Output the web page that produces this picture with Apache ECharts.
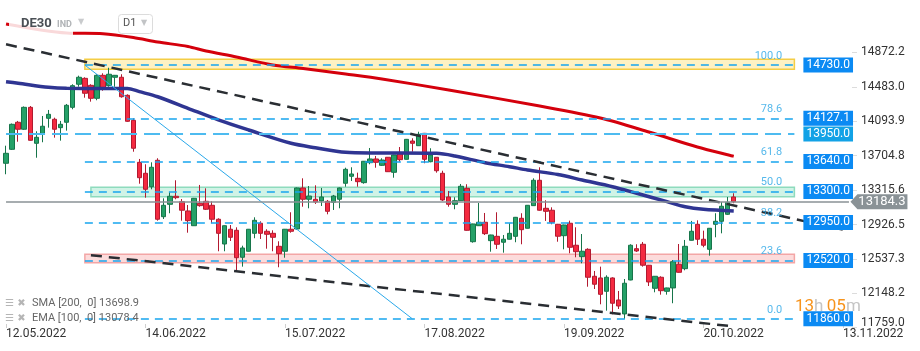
<!DOCTYPE html>
<html>
<head>
<meta charset="utf-8">
<script src="https://cdn.jsdelivr.net/npm/echarts@6/dist/echarts.min.js"></script>
<style>
  html, body { margin: 0; padding: 0; background: #fff; }
  #chart { width: 920px; height: 351px; }
</style>
</head>
<body>
<div id="chart"></div>
<script>
// daily bars DE30, 12.05.2022 .. 27.10.2022
var opens = [13619,13777,14083,14004,14252,13845,13947,14128,14117,14022,14083,14252,14513,14580,14501,14354,14614,14497,14592,14592,
  14388,14105,13630,13506,13354,13653,13015,13155,13246,13185,13080,12913,13167,13189,13144,12986,12706,12873,12861,12556,
  12624,12827,12941,12850,12827,12680,12624,12873,12876,13340,13212,13212,13193,13189,13178,13212,13393,13472,13449,13400,
  13626,13668,13596,13687,13517,13739,13664,13871,13818,13958,13637,13687,13506,13238,13155,13196,13336,12732,12913,12952,
  12744,12793,12726,12760,12793,12997,12884,13140,13427,13110,13088,12929,12800,12941,12692,12563,12646,12341,12322,12171,
  12322,12073,11915,12299,12653,12703,12466,12205,12330,12171,12209,12477,12427,12748,12929,12760,12646,12929,12963,13042,13238];
var closes = [13732,14060,14004,14252,13879,13913,14038,14173,14004,14060,14275,14497,14592,14411,14354,14614,14467,14626,14614,14372,
  14094,13789,13456,13325,13574,12986,13144,13246,13230,13088,12970,13223,13140,13099,12986,12827,12913,12782,12551,12661,
  12873,12974,12827,12816,12782,12597,12873,12850,13340,13212,13249,13181,13238,13076,13249,13340,13551,13498,13411,13642,
  13668,13630,13656,13524,13713,13660,13890,13845,13947,13664,13713,13535,13204,13155,13196,13359,12861,12933,12952,12823,
  12808,12703,12760,12827,13008,12868,13144,13427,13088,13076,12952,12794,12921,12669,12619,12624,12330,12251,12137,12330,
  12036,12005,12262,12692,12627,12466,12277,12341,12178,12209,12506,12386,12680,12850,12760,12692,12884,12963,13133,13178,13184.3];
var highs = [13818,14069,14098,14262,14267,13981,14154,14222,14135,14098,14290,14513,14610,14592,14513,14626,14637,14700,14618,14626,
  14399,14128,13668,13608,13630,13676,13223,13291,13427,13215,13147,13227,13374,13336,13189,12997,12916,12921,12895,12687,
  12876,13008,12963,12873,12861,12737,12876,13065,13345,13449,13362,13370,13340,13204,13261,13345,13569,13574,13513,13645,
  13792,13702,13676,13690,13716,13803,13894,13902,13976,13962,13789,13690,13535,13306,13235,13385,13382,12936,13170,13057,
  12811,13065,12808,12941,13012,13054,13147,13449,13574,13201,13121,12933,12925,12970,12895,12819,12658,12401,12450,12352,
  12330,12175,12310,12703,12703,12729,12469,12344,12341,12212,12525,12706,12752,12967,12974,12857,12887,13054,13181,13238,13280];
var lows = [13495,13770,13863,13996,13874,13682,13857,14022,13909,13875,13988,14230,14485,14361,14316,14332,14440,14485,14485,14361,
  14088,13750,13388,13230,13325,12970,12989,13054,13212,12970,12834,12910,13128,13091,12941,12624,12624,12740,12393,12450,
  12621,12771,12763,12653,12624,12443,12551,12834,12870,13128,13110,13159,13136,13042,13091,13110,13354,13419,13354,13388,
  13608,13569,13589,13521,13456,13637,13662,13750,13815,13619,13630,13513,13193,13128,13099,13193,12857,12721,12910,12808,
  12619,12650,12608,12757,12726,12703,12882,13136,13083,12967,12929,12732,12646,12601,12556,12488,12223,12197,12024,11952,
  11911,11971,11860,12296,12616,12450,12231,12160,12133,12133,12036,12382,12409,12746,12695,12669,12574,12782,12827,13034,13167];

// indicator readings [bar index, value]
var sma200 = [[0,15195],[10,15093],[16,15085],[21,15042],[25,14991],[30,14940],[33,14889],[38,14821],[44,14731],[49,14691],
  [56,14629],[62,14573],[73,14448],[88,14267],[98,14131],[106,13973],[114,13803],[120,13698.9]];
var ema100 = [[0,14542],[2,14525],[7,14479],[10,14467],[15,14466],[20,14466],[22,14429],[25,14372],[30,14241],[35,14110],
  [40,13996],[47,13845],[51,13795],[56,13743],[61,13736],[71,13732],[74,13702],[79,13626],[83,13581],[86,13543],
  [91,13492],[95,13430],[100,13354],[104,13280],[109,13185],[112,13128],[115,13099],[120,13078.4]];

var fibLevels = [14730, 14127.1, 13640, 13300, 12950, 12520, 11860];
var fibTexts = ['100.0', '78.6', '61.8', '50.0', '38.2', '23.6', '0.0'];
var keyLevel = 13950;
var lastPrice = 13184.3;
var upperTrend = [[0, 14965], [139, 12853]];
var lowerTrend = [[14, 12580], [120, 11773]];
var fibBase = [[13, 14730], [67, 11860]];
var yellowZone = [14682, 14797];
var greenZone = [13241, 13348];
var pinkZone = [12495, 12590];

var xTickLabels = ['12.05.2022', '14.06.2022', '15.07.2022', '17.08.2022', '19.09.2022', '20.10.2022', '13.11.2022'];
var yTicks = [11759.0, 12148.2, 12537.3, 12926.5, 13315.6, 13704.8, 14093.9, 14483.0, 14872.2];

var nSlots = 140;
var categories = [];
for (var i = 0; i < nSlots; i++) categories.push(String(i));
var candles = opens.map(function (o, i) { return [o, closes[i], lows[i], highs[i]]; });

var FONT = 'Roboto';
var boxBlue = '#0b8af3';
var fibBlue = '#17a5ee';

function hLine(v, from, to, style, boxColor) {
  return [
    { coord: [from, v], lineStyle: style,
      label: { show: true, position: 'end', distance: 9, formatter: v.toFixed(1), color: '#fff',
        backgroundColor: boxColor, padding: [1, 3], fontSize: 12, fontFamily: FONT, lineHeight: 13 } },
    { coord: [to, v] }
  ];
}
function seg(pts, style) {
  return [{ coord: pts[0], lineStyle: style, label: { show: false } }, { coord: pts[1] }];
}

var fibStyle = { color: fibBlue, width: 1.5, type: [8, 6] };
var lineData = fibLevels.map(function (v) { return hLine(v, 13, 130, fibStyle, boxBlue); });
lineData.push(hLine(keyLevel, 0, 130, { color: '#4dbbf0', width: 2, type: [16, 7] }, '#12a2e6'));
lineData.push(seg(upperTrend, { color: '#2a2e33', width: 2.5, type: [11, 7] }));
lineData.push(seg(lowerTrend, { color: '#2a2e33', width: 2.5, type: [11, 7] }));
lineData.push(seg(fibBase, { color: '#2aa8ea', width: 1, type: 'solid' }));
lineData.push(seg([[0, lastPrice], [139, lastPrice]], { color: '#8a9296', width: 1.5, type: 'solid' }));

var chart = echarts.init(document.getElementById('chart'));
chart.setOption({
  animation: false,
  backgroundColor: '#fff',
  textStyle: { fontFamily: FONT },
  grid: { left: 3, right: 68, top: 0, bottom: 23, containLabel: false, outerBoundsMode: 'none' },
  xAxis: {
    type: 'category', data: categories, boundaryGap: true,
    axisLine: { show: false },
    axisTick: { show: true, alignWithLabel: true, interval: 22, inside: true, length: 4, lineStyle: { color: '#cfcfcf' } },
    axisLabel: { interval: 22, align: 'left', margin: 0, color: '#333', fontSize: 12, fontFamily: FONT,
      formatter: function (v, i) { return xTickLabels[i / 23] || ''; } },
    splitLine: { show: false }
  },
  yAxis: {
    type: 'value', position: 'right', min: 11756, max: 15466,
    axisLine: { show: false }, splitLine: { show: false },
    axisTick: { show: true, customValues: yTicks, length: 5, lineStyle: { color: '#dcdcdc' } },
    axisLabel: { customValues: yTicks, margin: 9, color: '#333', fontSize: 12, fontFamily: FONT,
      formatter: function (v) {
        var s = Number(v).toFixed(1);
        return v === yTicks[0] ? '{low|' + s + '}' : s;
      },
      rich: { low: { fontSize: 12, fontFamily: FONT, color: '#333', padding: [0, 0, 10, 0] } } }
  },
  series: [
    {
      type: 'candlestick', data: candles, barWidth: 5, z: 2,
      itemStyle: { color: '#25a168', color0: '#f42a40', borderColor: '#17754a', borderColor0: '#b21a30', borderWidth: 1 }
    },
    {
      type: 'line', data: sma200, smooth: 0.3, symbol: 'none', z: 3,
      lineStyle: { color: '#d4000c', width: 3 }
    },
    {
      type: 'line', data: ema100, smooth: 0.3, symbol: 'none', z: 3,
      lineStyle: { color: '#2f3592', width: 3.5 }
    },
    {
      type: 'line', data: [], z: 4, silent: true,
      markArea: {
        silent: true,
        data: [
          [{ coord: [13, yellowZone[0]], itemStyle: { color: 'rgba(252,225,120,0.45)', borderColor: '#f4cd45', borderWidth: 1.5 } },
           { coord: [130, yellowZone[1]] }],
          [{ coord: [14, greenZone[0]], itemStyle: { color: 'rgba(150,228,200,0.45)', borderColor: '#8edbbd', borderWidth: 1.5 } },
           { coord: [130, greenZone[1]] }],
          [{ coord: [13, pinkZone[0]], itemStyle: { color: 'rgba(247,170,170,0.42)', borderColor: '#f3a6a6', borderWidth: 1.5 } },
           { coord: [130, pinkZone[1]] }]
        ]
      }
    },
    {
      type: 'line', data: [], z: 5, silent: true,
      markLine: { silent: true, symbol: ['none', 'none'], data: lineData },
      markPoint: {
        silent: true,
        data: [{
          coord: [139, lastPrice],
          symbol: 'path://M0,7L7,0L57,0L57,14L7,14Z', symbolSize: [57, 15], symbolOffset: [30, 0],
          itemStyle: { color: '#8a9296' },
          label: { show: true, position: 'inside', formatter: lastPrice.toFixed(1), color: '#fff', fontSize: 13, fontFamily: FONT, offset: [3, 0] }
        }]
      }
    },
    {
      type: 'scatter', data: fibLevels.map(function (v) { return [128, v]; }), symbolSize: 0, z: 6, silent: true,
      label: { show: true, position: 'left', distance: 0, offset: [0, -9], color: '#2ba6e6', fontSize: 11, fontFamily: FONT,
        formatter: function (p) { return fibTexts[p.dataIndex]; } }
    }
  ],
  graphic: [
    { type: 'rect', left: 9, top: 13, shape: { width: 64, height: 22 }, style: { fill: 'rgba(255,255,255,0.85)' }, z: 100 },
    { type: 'text', left: 21, top: 17, z: 101, style: { text: 'DE30', fill: '#4a4f55', font: 'bold 13px Roboto' } },
    { type: 'text', left: 57, top: 20, z: 101, style: { text: 'IND', fill: '#b0b3b6', font: 'bold 9px Roboto' } },
    { type: 'text', left: 78, top: 18, z: 101, style: { text: '▼', fill: '#c9cbcd', font: '8px DejaVu Sans' } },
    { type: 'rect', left: 118, top: 14, z: 101, shape: { width: 34, height: 19, r: 3 }, style: { fill: '#fff', stroke: '#dcdcdc', lineWidth: 1 } },
    { type: 'text', left: 123, top: 18, z: 102, style: { text: 'D1', fill: '#555', font: '11px Roboto' } },
    { type: 'text', left: 141, top: 19, z: 102, style: { text: '▼', fill: '#c2c4c6', font: '8px DejaVu Sans' } },
    { type: 'text', left: 5, top: 298, z: 101, style: { text: '☰ ✖', fill: '#b5b5b5', font: '10px DejaVu Sans' } },
    { type: 'text', left: 32, top: 298, z: 101, style: { text: 'SMA [200,  0] 13698.9', fill: '#666', font: '11px Roboto' } },
    { type: 'text', left: 5, top: 313, z: 101, style: { text: '☰ ✖', fill: '#b5b5b5', font: '10px DejaVu Sans' } },
    { type: 'text', left: 32, top: 313, z: 101, style: { text: 'EMA [100,  0] 13078.4', fill: '#666', font: '11px Roboto' } },
    { type: 'text', left: 795, top: 298, z: 101, style: {
        text: '{o|13}{g|h} {o|05}{g|m}',
        rich: { o: { fill: '#f7941d', font: '17px Roboto' }, g: { fill: '#c4c4c4', font: '17px Roboto' } } } }
  ]
});
</script>
</body>
</html>
